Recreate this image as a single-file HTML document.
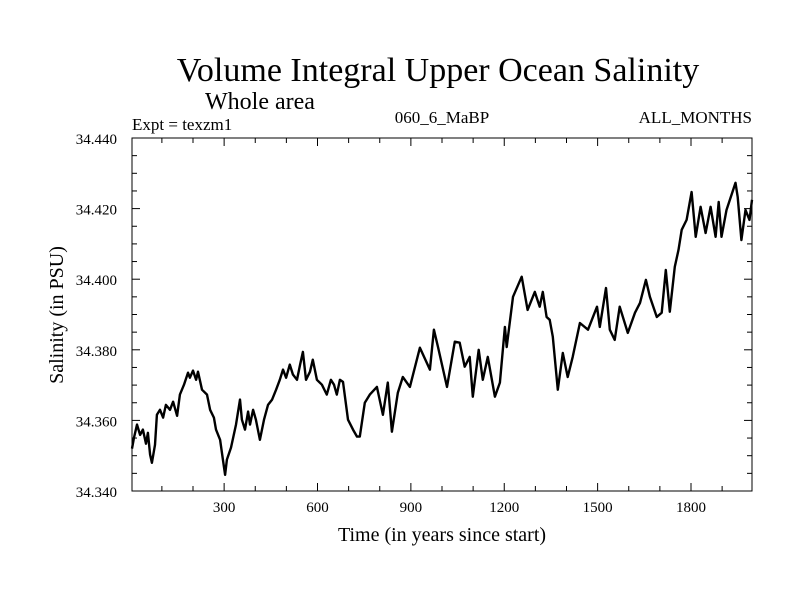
<!DOCTYPE html>
<html><head><meta charset="utf-8"><style>
body{margin:0;background:#fff}
svg text{font-family:"Liberation Serif",serif;fill:#000}
</style></head><body>
<svg id="chart" width="800" height="600" viewBox="0 0 800 600">
<text x="438" y="81" font-size="34" text-anchor="middle">Volume Integral Upper Ocean Salinity</text>
<text x="260" y="109" font-size="24" text-anchor="middle">Whole area</text>
<text x="132" y="130" font-size="17">Expt = texzm1</text>
<text x="442" y="123" font-size="17" text-anchor="middle">060_6_MaBP</text>
<text x="752" y="123" font-size="17" text-anchor="end">ALL_MONTHS</text>
<text x="442" y="541" font-size="20" text-anchor="middle">Time (in years since start)</text>
<text transform="translate(63,315) rotate(-90)" font-size="20" text-anchor="middle">Salinity (in PSU)</text>
<g id="axes"></g>
<path id="series" fill="none" stroke="#000" stroke-width="2.4" stroke-linejoin="round"/>
<rect x="132" y="138" width="620" height="353" fill="none" stroke="#000" stroke-width="1"/>
</svg>
<script>
const years=[4,10,20,30,39,49,55,62,68,78,84,94,104,113,126,136,149,158,171,184,190,200,210,216,229,245,255,267,274,287,296,303,309,322,338,351,357,367,377,383,393,402,415,428,441,454,467,479,489,499,511,521,534,544,553,563,576,585,598,614,630,643,653,662,672,682,698,714,727,736,752,768,791,810,826,839,858,874,897,929,961,974,987,1016,1041,1057,1073,1089,1099,1118,1131,1147,1170,1186,1202,1208,1228,1256,1275,1298,1314,1324,1336,1346,1356,1372,1388,1404,1420,1443,1469,1498,1507,1527,1539,1555,1571,1597,1620,1636,1655,1668,1690,1706,1719,1732,1748,1760,1770,1786,1802,1815,1831,1847,1863,1879,1889,1898,1914,1943,1950,1962,1975,1988,1996];
const salinity=[34.352,34.355,34.3588,34.3559,34.3574,34.3534,34.3565,34.3503,34.348,34.3531,34.3616,34.363,34.3608,34.3644,34.363,34.3653,34.3613,34.3673,34.3701,34.3735,34.3721,34.3741,34.3715,34.3738,34.3687,34.3673,34.363,34.3608,34.3574,34.3545,34.3489,34.3446,34.3489,34.3523,34.3588,34.3659,34.3602,34.3574,34.3625,34.3588,34.363,34.3602,34.3545,34.3602,34.3644,34.3659,34.3687,34.3715,34.3744,34.3721,34.3758,34.373,34.3715,34.3758,34.3794,34.3715,34.3738,34.3772,34.3715,34.3701,34.3673,34.3715,34.3701,34.3673,34.3715,34.3709,34.3602,34.3574,34.3554,34.3554,34.365,34.3673,34.3695,34.3616,34.3707,34.3568,34.3678,34.3723,34.3695,34.3806,34.3744,34.3857,34.3808,34.3695,34.3823,34.382,34.3752,34.378,34.3667,34.38,34.3715,34.378,34.3667,34.3707,34.3865,34.3808,34.395,34.4007,34.3913,34.3964,34.3922,34.3964,34.3893,34.3885,34.3837,34.3687,34.3791,34.3723,34.378,34.3876,34.3857,34.3922,34.3865,34.3975,34.3857,34.3828,34.3922,34.3848,34.3905,34.3933,34.3998,34.395,34.3893,34.3905,34.4026,34.3908,34.4035,34.4083,34.414,34.4168,34.4247,34.412,34.4205,34.4131,34.4205,34.412,34.4219,34.412,34.4196,34.4273,34.4233,34.4111,34.4196,34.4168,34.4225];
const xTickLabels=[300,600,900,1200,1500,1800];
const xMinorTicks=[100,200,400,500,700,800,1000,1100,1300,1400,1600,1700,1900];
const yTickLabels=[34.34,34.36,34.38,34.40,34.42,34.44];
const yMinorTicks=[34.345,34.35,34.355,34.365,34.37,34.375,34.385,34.39,34.395,34.405,34.41,34.415,34.425,34.43,34.435];
const X0=132,X1=752,Y0=491,Y1=138,xmin=4,xmax=1996,ymin=34.34,ymax=34.44;
const xs=v=>X0+(v-xmin)/(xmax-xmin)*(X1-X0);
const ys=v=>Y0-(v-ymin)/(ymax-ymin)*(Y0-Y1);
const NS="http://www.w3.org/2000/svg";
const g=document.getElementById('axes');
function line(x1,y1,x2,y2,name){const l=document.createElementNS(NS,'line');
l.setAttribute('x1',x1);l.setAttribute('y1',y1);l.setAttribute('x2',x2);l.setAttribute('y2',y2);
l.setAttribute('stroke','#000');l.setAttribute('stroke-width','1');


g.appendChild(l);}
function txt(x,y,s,anchor,name){const t=document.createElementNS(NS,'text');
t.setAttribute('x',x);t.setAttribute('y',y);t.setAttribute('font-size','15');t.setAttribute('text-anchor',anchor);t.textContent=s;


g.appendChild(t);}
xTickLabels.forEach(v=>{const x=xs(v);line(x,Y0,x,Y0-8,'x-major-tick');line(x,Y1,x,Y1+8,'x-major-tick-top');txt(x,512,String(v),'middle','x-tick-label');});
xMinorTicks.forEach(v=>{const x=xs(v);line(x,Y0,x,Y0-5,'x-minor-tick');line(x,Y1,x,Y1+5,'x-minor-tick-top');});
yTickLabels.forEach(v=>{const y=ys(v);line(X0,y,X0+8,y,'y-major-tick');line(X1,y,X1-8,y,'y-major-tick-right');txt(117,y+6,v.toFixed(3),'end','y-tick-label');});
yMinorTicks.forEach(v=>{const y=ys(v);line(X0,y,X0+5,y,'y-minor-tick');line(X1,y,X1-5,y,'y-minor-tick-right');});
let d='';years.forEach((yr,i)=>{d+=(i?'L':'M')+xs(yr).toFixed(1)+','+ys(salinity[i]).toFixed(1);});
document.getElementById('series').setAttribute('d',d);
</script>
</body></html>
